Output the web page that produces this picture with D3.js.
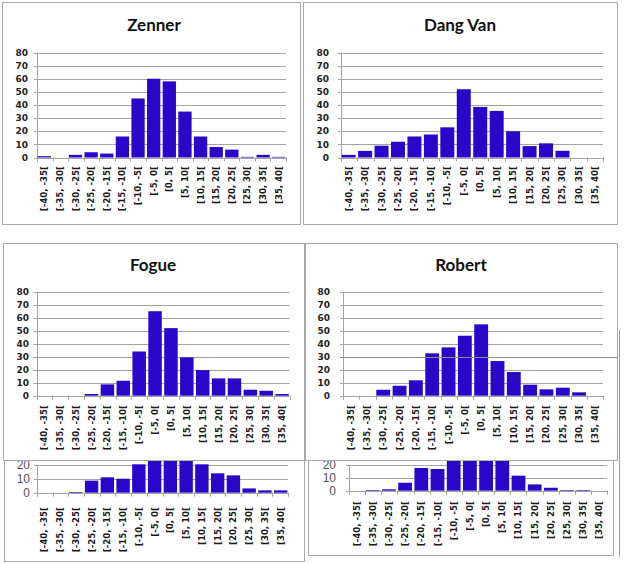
<!DOCTYPE html>
<html><head><meta charset="utf-8">
<script src="https://cdn.jsdelivr.net/npm/d3@7"></script>
<style>body{margin:0;background:#fff}svg{display:block}</style>
</head><body>
<script>
const categories = ["[-40, -35[", "[-35, -30[", "[-30, -25[", "[-25, -20[", "[-20, -15[", "[-15, -10[", "[-10, -5[", "[-5, 0[", "[0, 5[", "[5, 10[", "[10, 15[", "[15, 20[", "[20, 25[", "[25, 30[", "[30, 35[", "[35, 40["];
const zenner = [1, 0, 2, 4, 3, 16, 45, 60, 58, 35, 16, 8, 6, 0.5, 2, 0.5];
const dangVan = [2, 5, 9, 12, 16, 17.5, 23, 52, 38.5, 35.5, 20, 8.7, 10.8, 5.1, 0, 0];
const fogue = [0, 0, 0, 1.3, 8.7, 11.5, 34, 65, 52, 29.5, 19.7, 13.3, 13.3, 4.6, 3.8, 1.3];
const robert = [0, 0, 4.6, 7.7, 11.9, 32.8, 37.4, 46.4, 55.2, 26.8, 18.3, 8.5, 4.9, 6.2, 2.6, 0];
const lowerLeft = [0, 0, 0.5, 8.7, 11.1, 10.1, 20.5, 30, 32, 28, 20.5, 14, 12.5, 3.1, 1.7, 1.7];
const lowerRight = [0, 0.5, 1.1, 6.2, 17.7, 16.9, 28, 32, 30, 26, 11.7, 4.9, 2.3, 0.5, 0.5, 0];
const titles = ["Zenner", "Dang Van", "Fogue", "Robert"];
const yTicks = [0, 10, 20, 30, 40, 50, 60, 70, 80];
const lowerTicks = [0, 10, 20];

const W = 625, H = 564;
const svg = d3.select("body").append("svg").attr("width", W).attr("height", H);
const defs = svg.append("defs");
const BAR = "#2a06c8";
const GRID = "#a3a3a3";

let clipId = 0;
function panel(o) {
  const id = "clip" + (clipId++);
  defs.append("clipPath").attr("id", id).append("rect")
    .attr("x", o.box[0]).attr("y", o.box[1]).attr("width", o.box[2]).attr("height", o.box[3]);
  const g = svg.append("g").attr("clip-path", `url(#${id})`);
  const x = d3.scaleBand().domain(categories).range(o.xr).paddingInner(0.15).paddingOuter(0.04);
  const y = d3.scaleLinear().domain([0, o.ymax]).range(o.yr);
  // gridlines
  g.selectAll("line.grid").data(o.ticks).join("line")
    .attr("x1", o.xr[0] - 3).attr("x2", o.xr[1])
    .attr("y1", d => Math.round(y(d)) + 0.5).attr("y2", d => Math.round(y(d)) + 0.5)
    .attr("stroke", GRID).attr("stroke-width", 1);
  // y axis line
  g.append("line").attr("x1", Math.round(o.xr[0]) + 0.5).attr("x2", Math.round(o.xr[0]) + 0.5)
    .attr("y1", y(o.ticks[o.ticks.length - 1])).attr("y2", y(0) + 4)
    .attr("stroke", GRID);
  // x ticks at band boundaries
  const step = x.step();
  const bounds = d3.range(categories.length + 1).map(i => o.xr[0] + (o.xr[1] - o.xr[0]) * i / categories.length);
  g.selectAll("line.xt").data(bounds).join("line")
    .attr("x1", d => Math.round(d) + 0.5).attr("x2", d => Math.round(d) + 0.5)
    .attr("y1", y(0)).attr("y2", y(0) + 4).attr("stroke", GRID);
  // bars
  g.selectAll("rect.bar").data(o.values).join("rect")
    .attr("x", (d, i) => x(categories[i]))
    .attr("width", x.bandwidth())
    .attr("y", d => y(d))
    .attr("height", d => y(0) - y(d))
    .attr("fill", BAR);
  // y labels
  g.selectAll("text.yl").data(o.ticks).join("text")
    .attr("x", o.ylx).attr("y", d => y(d)).attr("dy", "0.35em")
    .attr("text-anchor", "end")
    .style("font-family", o.yfont).style("font-size", o.yfs + "px")
    .style("font-weight", o.ybold ? "bold" : "normal").attr("fill", o.ycol)
    .text(d => d);
  // x labels
  g.selectAll("text.xl").data(categories).join("text")
    .attr("transform", d => `translate(${x(d) + x.bandwidth() / 2 + 3},${o.xly}) rotate(-90)`)
    .attr("text-anchor", "end")
    .style("font-family", "DejaVu Sans").style("font-size", "8.6px")
    .style("font-weight", "bold").attr("fill", "#1a1a1a")
    .text(d => d);
  // title
  if (o.title) {
    g.append("text").attr("x", o.tx).attr("y", o.ty).attr("text-anchor", "middle")
      .style("font-family", "Lato").style("font-weight", "bold").style("font-size", "17px")
      .attr("fill", "#111").text(o.title);
  }
  // border
  svg.append("rect").attr("x", o.box[0] + 0.5).attr("y", o.box[1] + 0.5)
    .attr("width", o.box[2] - 1).attr("height", o.box[3] - 1)
    .attr("fill", "none").attr("stroke", "#a9a9a9");
  return {g, x, y};
}

const topCfg = {ymax: 80, ticks: yTicks, yfont: "DejaVu Sans", yfs: 9, ybold: true, ycol: "#222"};
panel(Object.assign({}, topCfg, {box: [2, 2, 299, 223], xr: [37, 286], yr: [157.5, 52.5], ylx: 28, xly: 166, values: zenner, title: titles[0], tx: 154, ty: 31}));
panel(Object.assign({}, topCfg, {box: [303, 2, 315, 223], xr: [341, 603], yr: [157.5, 52.5], ylx: 329, xly: 166, values: dangVan, title: titles[1], tx: 460, ty: 31}));
panel(Object.assign({}, topCfg, {box: [3, 243, 302, 218], xr: [36.5, 289.5], yr: [395.7, 291.7], ylx: 29, xly: 405, values: fogue, title: titles[2], tx: 153, ty: 271}));
const rob = panel(Object.assign({}, topCfg, {box: [305, 243, 313, 218], xr: [343, 603], yr: [395.7, 292.3], ylx: 330, xly: 405, values: robert, title: titles[3], tx: 461, ty: 271}));
// stray extended gridline at 30 in Robert panel
svg.append("line").attr("x1", 340).attr("x2", 617)
  .attr("y1", Math.round(rob.y(30)) + 0.5).attr("y2", Math.round(rob.y(30)) + 0.5)
  .attr("stroke", "#8a8a8a");

const lowCfg = {ymax: 20, ticks: lowerTicks, yfont: "Liberation Sans", yfs: 12, ybold: false, ycol: "#555"};
panel(Object.assign({}, lowCfg, {box: [4, 460, 301, 102], xr: [37, 288], yr: [492.7, 465], ylx: 30, xly: 507, values: lowerLeft}));
panel(Object.assign({}, lowCfg, {box: [308, 460, 306, 96], xr: [349, 607], yr: [490.7, 465], ylx: 336, xly: 501, values: lowerRight}));
// stray vertical border line on right edge
svg.append("line").attr("x1", 619.5).attr("x2", 619.5).attr("y1", 330).attr("y2", 557).attr("stroke", "#9a9a9a");
</script>
</body></html>
